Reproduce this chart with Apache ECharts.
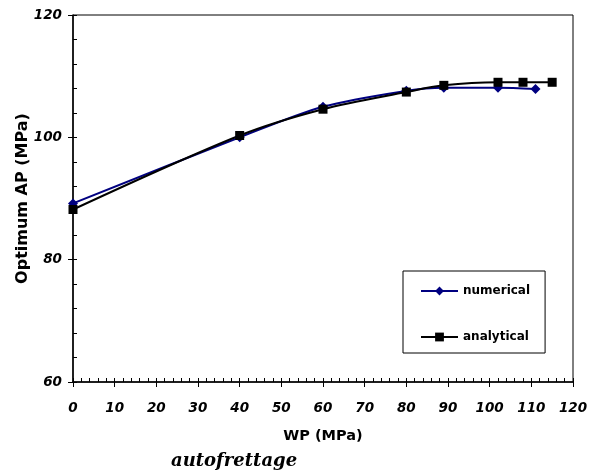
<!DOCTYPE html>
<html>
<head>
<meta charset="UTF-8">
<title>Optimum AP vs WP</title>
<script src="https://cdn.jsdelivr.net/npm/echarts@6.0.0/dist/echarts.min.js"></script>
<style>
    html, body { margin: 0; padding: 0; background: #fff; }
    #chart { width: 596px; height: 476px; }
</style>
</head>
<body>
<div id="chart"></div>
<script>
    // values
    const numericalWP = [0, 40, 60, 80, 89, 102, 111];
    const numericalAP = [89.2, 100.0, 105.0, 107.6, 108.1, 108.1, 107.9];
    const analyticalWP = [0, 40, 60, 80, 89, 102, 108, 115];
    const analyticalAP = [88.2, 100.3, 104.6, 107.4, 108.5, 109.0, 109.0, 109.0];
    const seriesNames = ['numerical', 'analytical'];
    const xAxisTitle = 'WP (MPa)';
    const yAxisTitle = 'Optimum AP (MPa)';
    const caption = 'autofrettage';

    function pairs(xs, ys) {
        return xs.map((x, i) => [x, ys[i]]);
    }

    const chart = echarts.init(document.getElementById('chart'));
    const sans = 'DejaVu Sans';
    const black = { color: '#000' };
    const tickFont = { fontFamily: sans, fontSize: 13.5, fontWeight: 'bold', fontStyle: 'italic', color: '#000' };

    const option = {
        animation: false,
        title: {
            text: caption,
            left: 171,
            top: 452,
            padding: 0,
            textStyle: { fontFamily: 'DejaVu Serif', fontSize: 18, fontWeight: 'bold', fontStyle: 'italic', color: '#000' }
        },
        legend: {
            orient: 'vertical',
            left: 403,
            top: 271,
            padding: [14, 15, 10, 17],
            itemWidth: 37,
            itemHeight: 11,
            itemGap: 34,
            borderColor: '#000',
            borderWidth: 1,
            data: seriesNames,
            textStyle: { fontFamily: sans, fontSize: 12, fontWeight: 'bold', color: '#000' }
        },
        grid: { left: 73, right: 23, top: 15, bottom: 94, show: true, borderColor: '#000', borderWidth: 1 },
        xAxis: [
            {
                type: 'value', min: 0, max: 120, interval: 10,
                name: xAxisTitle, nameLocation: 'middle', nameGap: 47, nameMoveOverlap: false,
                nameTextStyle: { fontFamily: sans, fontSize: 14.5, fontWeight: 'bold', color: '#000' },
                axisLine: { lineStyle: { color: '#000', width: 1.5 } },
                axisTick: { inside: true, length: 4, lineStyle: black },
                minorTick: { show: true, splitNumber: 5, length: 4, lineStyle: black },
                axisLabel: Object.assign({ margin: 19 }, tickFont),
                splitLine: { show: false }
            },
            {
                // outer half of the major ticks
                type: 'value', min: 0, max: 120, interval: 10, position: 'bottom',
                axisLine: { show: false },
                axisTick: { length: 5, lineStyle: black },
                axisLabel: { show: false },
                splitLine: { show: false }
            }
        ],
        yAxis: [
            {
                type: 'value', min: 60, max: 120, interval: 20,
                name: yAxisTitle, nameLocation: 'middle', nameGap: 42, nameMoveOverlap: false,
                nameTextStyle: { fontFamily: sans, fontSize: 16, fontWeight: 'bold', color: '#000' },
                axisLine: { show: true, lineStyle: { color: '#000', width: 1.5 } },
                axisTick: { show: true, inside: true, length: 4, lineStyle: black },
                minorTick: { show: true, splitNumber: 5, length: 4, lineStyle: black },
                axisLabel: Object.assign({ margin: 11 }, tickFont),
                splitLine: { show: false }
            },
            {
                type: 'value', min: 60, max: 120, interval: 20, position: 'left',
                axisLine: { show: false },
                axisTick: { show: true, length: 5, lineStyle: black },
                axisLabel: { show: false },
                splitLine: { show: false }
            }
        ],
        series: [
            {
                name: seriesNames[0],
                type: 'line',
                data: pairs(numericalWP, numericalAP),
                smooth: 0.3,
                symbol: 'diamond',
                symbolSize: 10,
                color: '#000080',
                lineStyle: { width: 2, color: '#000080' },
                itemStyle: { color: '#000080' }
            },
            {
                name: seriesNames[1],
                type: 'line',
                data: pairs(analyticalWP, analyticalAP),
                smooth: 0.3,
                symbol: 'rect',
                symbolSize: 9,
                color: '#000',
                lineStyle: { width: 2, color: '#000' },
                itemStyle: { color: '#000' }
            }
        ]
    };

    chart.setOption(option);
</script>
</body>
</html>
